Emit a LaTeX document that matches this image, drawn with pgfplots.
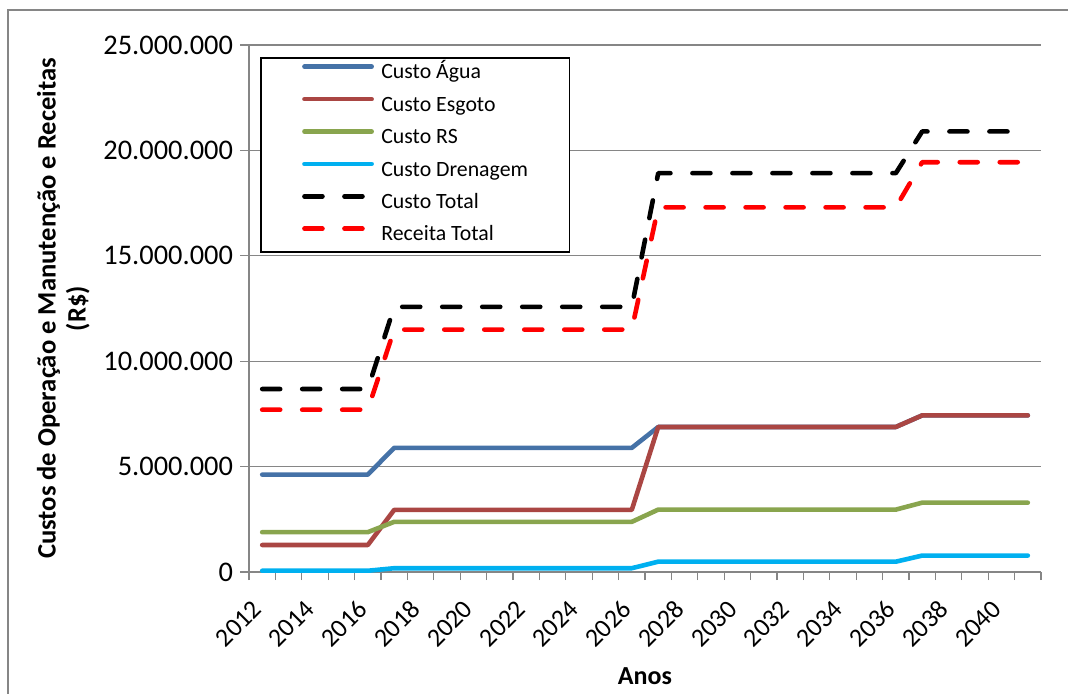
\documentclass[border=0pt]{standalone}
\usepackage{fontspec}
\setmainfont{Carlito}
\usepackage{pgfplots}
\usepackage{pgfplotstable}
\pgfplotsset{compat=1.18}

\definecolor{cagua}{RGB}{69,114,167}
\definecolor{cesgoto}{RGB}{170,70,67}
\definecolor{crs}{RGB}{137,165,78}
\definecolor{cdren}{RGB}{0,176,240}
\definecolor{gridgray}{RGB}{134,134,134}

% custos e receitas (R$) por ano
\pgfplotstableread{
ano  agua    esgoto  rs      dren   total    receita
2012 4620000 1280000 1890000 60000  8680000  7700000
2013 4620000 1280000 1890000 60000  8680000  7700000
2014 4620000 1280000 1890000 60000  8680000  7700000
2015 4620000 1280000 1890000 60000  8680000  7700000
2016 4620000 1280000 1890000 60000  8680000  7700000
2017 5890000 2950000 2380000 180000 12580000 11500000
2018 5890000 2950000 2380000 180000 12580000 11500000
2019 5890000 2950000 2380000 180000 12580000 11500000
2020 5890000 2950000 2380000 180000 12580000 11500000
2021 5890000 2950000 2380000 180000 12580000 11500000
2022 5890000 2950000 2380000 180000 12580000 11500000
2023 5890000 2950000 2380000 180000 12580000 11500000
2024 5890000 2950000 2380000 180000 12580000 11500000
2025 5890000 2950000 2380000 180000 12580000 11500000
2026 5890000 2950000 2380000 180000 12580000 11500000
2027 6880000 6880000 2960000 490000 18920000 17300000
2028 6880000 6880000 2960000 490000 18920000 17300000
2029 6880000 6880000 2960000 490000 18920000 17300000
2030 6880000 6880000 2960000 490000 18920000 17300000
2031 6880000 6880000 2960000 490000 18920000 17300000
2032 6880000 6880000 2960000 490000 18920000 17300000
2033 6880000 6880000 2960000 490000 18920000 17300000
2034 6880000 6880000 2960000 490000 18920000 17300000
2035 6880000 6880000 2960000 490000 18920000 17300000
2036 6880000 6880000 2960000 490000 18920000 17300000
2037 7430000 7430000 3290000 780000 20900000 19440000
2038 7430000 7430000 3290000 780000 20900000 19440000
2039 7430000 7430000 3290000 780000 20900000 19440000
2040 7430000 7430000 3290000 780000 20900000 19440000
2041 7430000 7430000 3290000 780000 20900000 19440000
}\dados

\begin{document}
\begin{tikzpicture}[x=1pt,y=1pt]
\useasboundingbox (0,0) rectangle (534,346.5);
\draw[gridgray, line width=1pt] (4,341.5) rectangle (560,-20);
\begin{axis}[
    at={(124.5pt,60.5pt)}, anchor=south west,
    scale only axis, width=396pt, height=263.5pt,
    xmin=2011.5, xmax=2041.5, ymin=0, ymax=25000000,
    axis lines*=left,
    axis line style={gridgray, line width=0.6pt},
    ymajorgrids, grid style={gridgray, line width=0.6pt},
    tick align=outside,
    major tick length=4.5pt, minor tick length=4pt,
    ytick={0,5000000,...,25000000},
    xtick={2012,2014,...,2040},
    minor xtick={2011.5,2012.5,...,2041.5},
    major x tick style={draw=none},
    minor x tick style={gridgray, line width=0.6pt},
    ytick style={gridgray, line width=0.6pt},
    scaled y ticks=false,
    /pgf/number format/assume math mode=true,
    yticklabel style={/pgf/number format/.cd, fixed, precision=0, 1000 sep={.},
        /tikz/font=\fontsize{14.2}{16}\selectfont},
    xticklabel style={/pgf/number format/1000 sep={}, yshift=-9.5pt, xshift=0pt,
        rotate=45, anchor=east, font=\fontsize{13}{15}\selectfont},
    xlabel={Anos},
    xlabel style={at={(axis description cs:0.5,-0.197)}, anchor=center,
        font=\bfseries\fontsize{13}{15}\selectfont},
    ylabel={Custos de Operação e Manutenção e Receitas\\(R\$)},
    ylabel style={at={(axis description cs:-0.2345,0.5)}, anchor=center, align=center,
        font=\bfseries\fontsize{13.3}{15}\selectfont},
    every axis plot/.append style={line width=2.3pt, line cap=round, line join=round},
    legend image code/.code={\draw[#1] (0pt,3.6pt) -- (33.6pt,3.6pt);},
    legend cell align=left,
    legend style={at={(axis description cs:0,1)}, anchor=north west,
        xshift=5.5pt, yshift=-6pt, draw=black, line width=0.75pt, fill=white,
        inner xsep=20.7pt, inner ysep=0pt, row sep=0pt,
        font=\fontsize{10.9}{12}\selectfont,
        /tikz/column 1/.style={column sep=3.7pt},
        nodes={inner sep=0pt, text height=10.6pt, text depth=5.6pt}},
]
\addplot[cagua] table[x=ano, y=agua] {\dados};
\addplot[cesgoto] table[x=ano, y=esgoto] {\dados};
\addplot[crs] table[x=ano, y=rs] {\dados};
\addplot[cdren] table[x=ano, y=dren] {\dados};
\addplot[black, dash pattern=on 9pt off 11pt] table[x=ano, y=total] {\dados};
\addplot[red, dash pattern=on 9pt off 11pt] table[x=ano, y=receita] {\dados};
\legend{Custo Água, Custo Esgoto, Custo RS, Custo Drenagem, Custo Total, Receita Total}
\end{axis}
\end{tikzpicture}
\end{document}
